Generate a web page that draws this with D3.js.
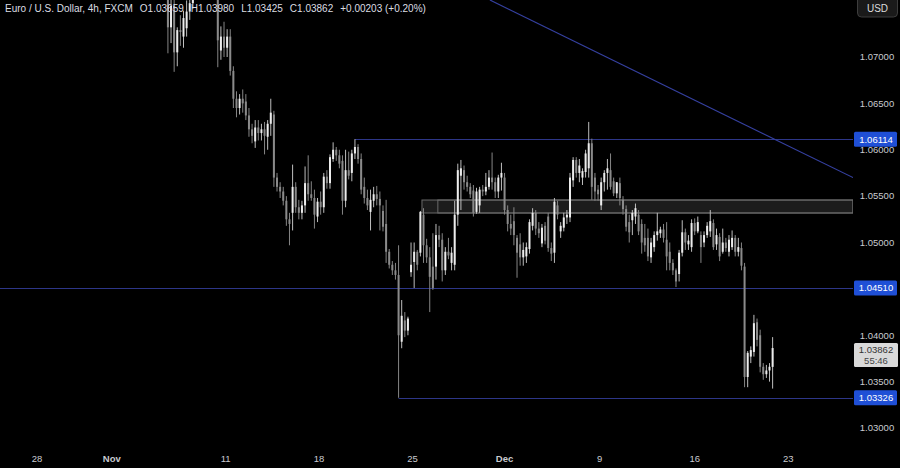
<!DOCTYPE html>
<html><head><meta charset="utf-8">
<script src="https://cdn.jsdelivr.net/npm/d3@7/dist/d3.min.js"></script>
<style>html,body{margin:0;padding:0;background:#000;overflow:hidden}svg{display:block}</style>
</head><body>
<svg id="chart" width="900" height="468"></svg>
<script>
// ---------- data (EUR/USD 4h, FXCM) ----------
const firstBar = 40; // bar index of first value (bar 0 = 28 Oct 00:00)
const open = [
1.0905,1.0925,1.0800,1.0732,1.0755,1.0705,1.0729,1.0722,1.0731,1.0749,
1.0758,1.0790,1.0798,1.0788,1.0782,1.0790,1.0784,1.0772,1.0768,1.0707,
1.0722,1.0710,1.0722,1.0685,1.0655,1.0645,1.0655,1.0652,1.0637,1.0622,
1.0609,1.0624,1.0618,1.0622,1.0614,1.0628,1.0638,1.0570,1.0560,1.0555,
1.0545,1.0525,1.0532,1.0560,1.0538,1.0532,1.0540,1.0564,1.0552,1.0548,
1.0528,1.0544,1.0538,1.0571,1.0564,1.0590,1.0600,1.0594,1.0588,1.0545,
1.0578,1.0575,1.0596,1.0603,1.0590,1.0560,1.0548,1.0533,1.0545,1.0552,
1.0547,1.0534,1.0520,1.0490,1.0476,1.0470,1.0465,1.0393,1.0416,1.0405,
1.0468,1.0479,1.0490,1.0489,1.0530,1.0497,1.0484,1.0474,1.0474,1.0508,
1.0503,1.0470,1.0490,1.0478,1.0476,1.0530,1.0572,1.0578,1.0565,1.0560,
1.0556,1.0533,1.0540,1.0557,1.0555,1.0560,1.0570,1.0565,1.0555,1.0570,
1.0570,1.0535,1.0520,1.0523,1.0505,1.0498,1.0484,1.0485,1.0493,1.0518,
1.0532,1.0515,1.0499,1.0518,1.0528,1.0494,1.0489,1.0540,1.0512,1.0516,
1.0527,1.0527,1.0567,1.0589,1.0575,1.0570,1.0576,1.0580,1.0607,1.0570,
1.0557,1.0540,1.0565,1.0575,1.0578,1.0566,1.0553,1.0564,1.0546,1.0536,
1.0522,1.0524,1.0528,1.0530,1.0520,1.0505,1.0505,1.0484,1.0495,1.0508,
1.0510,1.0514,1.0503,1.0490,1.0478,1.0470,1.0466,1.0489,1.0511,1.0498,
1.0495,1.0521,1.0512,1.0508,1.0500,1.0508,1.0512,1.0521,1.0498,1.0506,
1.0490,1.0500,1.0490,1.0495,1.0505,1.0490,1.0494,1.0474,1.0355,1.0377,
1.0382,1.0414,1.0400,1.0366,1.0358,1.0362,1.03659];
const high = [
1.0937,1.0930,1.0808,1.0772,1.0762,1.0732,1.0745,1.0750,1.0761,1.0770,
1.0795,1.0806,1.0805,1.0800,1.0796,1.0802,1.0790,1.0780,1.0775,1.0733,
1.0738,1.0730,1.0730,1.0690,1.0663,1.0660,1.0665,1.0660,1.0645,1.0628,
1.0632,1.0632,1.0628,1.0630,1.0632,1.0655,1.0642,1.0575,1.0565,1.0560,
1.0550,1.0532,1.0584,1.0565,1.0546,1.0545,1.0582,1.0594,1.0566,1.0557,
1.0548,1.0555,1.0575,1.0578,1.0595,1.0608,1.0603,1.0600,1.0594,1.0600,
1.0598,1.0600,1.06114,1.0606,1.0596,1.0570,1.0557,1.0557,1.0560,1.0561,
1.0555,1.0540,1.0546,1.0493,1.0480,1.0478,1.0497,1.0438,1.0425,1.0420,
1.0500,1.0500,1.0492,1.0534,1.0537,1.0504,1.0495,1.0510,1.0520,1.0518,
1.0510,1.0495,1.0505,1.0495,1.0545,1.0585,1.0589,1.0583,1.0572,1.0564,
1.0562,1.0559,1.0560,1.0562,1.0575,1.0578,1.0597,1.0570,1.0573,1.0586,
1.0575,1.0540,1.0530,1.0538,1.0508,1.0510,1.0500,1.0500,1.0525,1.0537,
1.0535,1.0522,1.0520,1.0522,1.0532,1.0500,1.0548,1.0545,1.0522,1.0532,
1.0535,1.0575,1.0592,1.0592,1.0590,1.0580,1.0600,1.0630,1.0612,1.0575,
1.0562,1.0570,1.0578,1.0590,1.0596,1.0570,1.0565,1.0570,1.0550,1.0540,
1.0530,1.0535,1.0542,1.0535,1.0525,1.0520,1.0515,1.0505,1.0512,1.0532,
1.0517,1.0520,1.0522,1.0500,1.0482,1.0472,1.0492,1.0524,1.0515,1.0508,
1.0525,1.0526,1.0528,1.0512,1.0512,1.0522,1.0535,1.0525,1.0515,1.0510,
1.0515,1.0505,1.0508,1.0513,1.0508,1.0505,1.0500,1.0478,1.0383,1.0388,
1.0422,1.0418,1.0406,1.0370,1.0368,1.0370,1.03980];
const low = [
1.0880,1.0780,1.0704,1.0715,1.0684,1.0690,1.0712,1.0710,1.0722,1.0740,
1.0752,1.0775,1.0780,1.0775,1.0772,1.0778,1.0766,1.0764,1.0689,1.0697,
1.0700,1.0700,1.0680,1.0645,1.0635,1.0638,1.0640,1.0632,1.0614,1.0607,
1.0602,1.0610,1.0610,1.0595,1.0600,1.0615,1.0560,1.0555,1.0548,1.0540,
1.0518,1.0497,1.0513,1.0532,1.0525,1.0525,1.0532,1.0545,1.0545,1.0515,
1.0522,1.0530,1.0532,1.0558,1.0558,1.0587,1.0588,1.0580,1.0530,1.0538,
1.0568,1.0566,1.0590,1.0585,1.0552,1.0542,1.0535,1.0513,1.0538,1.0540,
1.0513,1.0512,1.0478,1.0472,1.0465,1.0460,1.03326,1.0386,1.0398,1.0400,
1.0463,1.0451,1.0470,1.0485,1.0478,1.0478,1.0425,1.0449,1.0460,1.0495,
1.0458,1.0465,1.0482,1.0470,1.0470,1.0518,1.0535,1.0557,1.0555,1.0548,
1.0528,1.0531,1.0532,1.0550,1.0551,1.0557,1.0557,1.0548,1.0548,1.0556,
1.0530,1.0512,1.0508,1.0497,1.0462,1.0475,1.0475,1.0478,1.0488,1.0513,
1.0508,1.0505,1.0495,1.0498,1.0490,1.0480,1.0478,1.0525,1.0505,1.0512,
1.0520,1.0522,1.0560,1.0570,1.0565,1.0562,1.0570,1.0570,1.0546,1.0545,
1.0545,1.0535,1.0555,1.0557,1.0557,1.0550,1.0548,1.0540,1.0530,1.0512,
1.0500,1.0508,1.0520,1.0508,1.0488,1.0490,1.0480,1.0478,1.0490,1.0502,
1.0505,1.0500,1.0470,1.0470,1.0465,1.0452,1.0458,1.0485,1.0492,1.0492,
1.0490,1.0508,1.0510,1.0478,1.0495,1.0505,1.0506,1.0492,1.0492,1.0480,
1.0488,1.0490,1.0485,1.0492,1.0485,1.0485,1.0470,1.0344,1.0344,1.0370,
1.0377,1.0388,1.0360,1.0352,1.0354,1.0350,1.03425];
const close = [
1.0925,1.0800,1.0732,1.0755,1.0705,1.0729,1.0727,1.0742,1.0749,1.0758,
1.0790,1.0798,1.0788,1.0782,1.0790,1.0784,1.0772,1.0768,1.0718,1.0722,
1.0710,1.0722,1.0685,1.0655,1.0645,1.0655,1.0650,1.0637,1.0622,1.0615,
1.0624,1.0618,1.0622,1.0615,1.0628,1.0640,1.0570,1.0560,1.0555,1.0545,
1.0525,1.0520,1.0560,1.0538,1.0532,1.0540,1.0564,1.0552,1.0548,1.0530,
1.0544,1.0538,1.0571,1.0564,1.0592,1.0600,1.0594,1.0585,1.0545,1.0578,
1.0572,1.0596,1.0603,1.0590,1.0557,1.0548,1.0540,1.0546,1.0552,1.0547,
1.0540,1.0517,1.0490,1.0476,1.0470,1.0465,1.0400,1.0421,1.0405,1.0418,
1.0476,1.0490,1.0476,1.0533,1.0497,1.0484,1.0463,1.0451,1.0508,1.0503,
1.0470,1.0490,1.0486,1.0489,1.0530,1.0578,1.0580,1.0565,1.0560,1.0552,
1.0532,1.0555,1.0557,1.0555,1.0560,1.0570,1.0565,1.0555,1.0570,1.0575,
1.0535,1.0520,1.0515,1.0508,1.0489,1.0484,1.0492,1.0495,1.0522,1.0532,
1.0515,1.0510,1.0516,1.0502,1.0494,1.0488,1.0544,1.0530,1.0518,1.0527,
1.0530,1.0570,1.0589,1.0575,1.0583,1.0577,1.0596,1.0607,1.0560,1.0555,
1.0552,1.0565,1.0575,1.0580,1.0560,1.0553,1.0565,1.0548,1.0536,1.0517,
1.0511,1.0532,1.0537,1.0512,1.0500,1.0497,1.0485,1.0500,1.0508,1.0512,
1.0514,1.0505,1.0485,1.0478,1.0470,1.0458,1.0489,1.0511,1.0500,1.0502,
1.0521,1.0512,1.0522,1.0495,1.0508,1.0518,1.0523,1.0495,1.0508,1.0485,
1.0500,1.0494,1.0503,1.0505,1.0490,1.0495,1.0475,1.0355,1.0381,1.0384,
1.0413,1.0395,1.0366,1.0358,1.0362,1.0366,1.03862];

const priceTicks = [1.030, 1.035, 1.040, 1.045, 1.050, 1.055, 1.060, 1.065, 1.070];
const timeTickLabels = ["28", "Nov", "11", "18", "25", "Dec", "9", "16", "23"];
const timeTickBars   = [0, 24, 60.5, 90.5, 120.5, 150, 180.5, 211, 241];
const monthLabels = ["Nov", "Dec"];

const levelPrices    = [1.06114, 1.04510, 1.03326];
const levelStartBars = [102, null, 116];

const zoneTop = 1.05458, zoneBottom = 1.05318;
const zoneStartBars = [123.5, 128.6];

const trendBars   = [145.3, 261.8];
const trendPrices = [1.07615, 1.0570];

const headerTitle = "Euro / U.S. Dollar, 4h, FXCM";
const headerOHLC = ["O1.03659", "H1.03980", "L1.03425", "C1.03862", "+0.00203 (+0.20%)"];
const lastPrice = 1.03862;
const countdown = "55:46";
const currency = "USD";

// ---------- layout ----------
const W = 900, H = 468;
const plotRight = 853, plotBottom = 445;
const svg = d3.select("#chart");
svg.append("rect").attr("width", W).attr("height", H).attr("fill", "#000");

const x = d3.scaleLinear().domain([0, 236]).range([37, 37 + 236 * 3.117]);
const y = d3.scaleLinear().domain([1.03, 1.07]).range([428, 57]);

svg.append("defs").append("clipPath").attr("id", "plot")
  .append("rect").attr("x", 0).attr("y", 0).attr("width", plotRight).attr("height", plotBottom);

const plot = svg.append("g").attr("clip-path", "url(#plot)");

const lineColor = "#2d3688";

// zone (supply area)
zoneStartBars.forEach((b, k) => {
  plot.append("rect")
    .attr("x", x(b)).attr("y", y(zoneTop))
    .attr("width", plotRight - x(b)).attr("height", y(zoneBottom) - y(zoneTop))
    .attr("fill", k === 0 ? "#1c1c1c" : "none")
    .attr("stroke", "#6a6a6a").attr("stroke-width", 1);
});

// horizontal levels
levelPrices.forEach((p, k) => {
  const sb = levelStartBars[k];
  plot.append("line")
    .attr("x1", sb === null ? 0 : x(sb)).attr("x2", plotRight)
    .attr("y1", Math.round(y(p)) + 0.5).attr("y2", Math.round(y(p)) + 0.5)
    .attr("stroke", lineColor).attr("stroke-width", 1);
});

// trend line
plot.append("line")
  .attr("x1", x(trendBars[0])).attr("y1", y(trendPrices[0]))
  .attr("x2", x(trendBars[1])).attr("y2", y(trendPrices[1]))
  .attr("stroke", "#3540a0").attr("stroke-width", 1.1);

// candles
const bars = open.map((o, k) => ({ i: firstBar + k, o, h: high[k], l: low[k], c: close[k] }));
const cg = plot.append("g");
bars.forEach(d => {
  const xc = x(d.i);
  const up = d.c >= d.o;
  const bodyCol = up ? "#ececec" : "#8a8a8a";
  const wickCol = up ? "#bdbdbd" : "#858585";
  cg.append("rect").attr("x", xc - 0.5).attr("width", 1)
    .attr("y", y(d.h)).attr("height", Math.max(1, y(d.l) - y(d.h)))
    .attr("fill", wickCol);
  const top = y(Math.max(d.o, d.c)), bot = y(Math.min(d.o, d.c));
  cg.append("rect").attr("x", xc - 1).attr("width", 2)
    .attr("y", top).attr("height", Math.max(1, bot - top))
    .attr("fill", bodyCol);
});

// header
const hdr = svg.append("text").attr("x", 5).attr("y", 12)
  .attr("font-family", "Liberation Sans, Arial, sans-serif").attr("font-size", 10)
  .attr("fill", "#dcdee3");
hdr.append("tspan").text(headerTitle);
headerOHLC.forEach(t => hdr.append("tspan").attr("dx", 7).text(t));

// price axis
const axisFont = "Liberation Sans, Arial, sans-serif";
const pa = svg.append("g");
priceTicks.forEach(p => {
  pa.append("text").attr("x", 877).attr("y", y(p)).attr("dy", "0.35em")
    .attr("text-anchor", "middle").attr("font-family", axisFont).attr("font-size", 9.5)
    .attr("fill", "#c9cbd0").text(d3.format(".5f")(p));
});

// level labels
levelPrices.forEach(p => {
  const yy = y(p);
  pa.append("rect").attr("x", 854).attr("y", yy - 7.5).attr("width", 43).attr("height", 15)
    .attr("rx", 1.5).attr("fill", "#1f4fd6");
  pa.append("text").attr("x", 876).attr("y", yy).attr("dy", "0.35em")
    .attr("text-anchor", "middle").attr("font-family", axisFont).attr("font-size", 9.5)
    .attr("fill", "#ffffff").text(d3.format(".5f")(p));
});

// last price label
const yl = y(lastPrice);
pa.append("rect").attr("x", 854).attr("y", yl - 5).attr("width", 44).attr("height", 24)
  .attr("rx", 1.5).attr("fill", "#d9d9d9");
pa.append("text").attr("x", 876).attr("y", yl + 2).attr("dy", "0.35em")
  .attr("text-anchor", "middle").attr("font-family", axisFont).attr("font-size", 9.5)
  .attr("fill", "#333").text(d3.format(".5f")(lastPrice));
pa.append("text").attr("x", 876).attr("y", yl + 13).attr("dy", "0.35em")
  .attr("text-anchor", "middle").attr("font-family", axisFont).attr("font-size", 9.5)
  .attr("fill", "#444").text(countdown);

// currency button
pa.append("rect").attr("x", 857.5).attr("y", -4).attr("width", 40).attr("height", 21)
  .attr("rx", 4).attr("fill", "#1a1a1a").attr("stroke", "#3d3d3d");
pa.append("text").attr("x", 877.5).attr("y", 8).attr("dy", "0.35em")
  .attr("text-anchor", "middle").attr("font-family", axisFont).attr("font-size", 10)
  .attr("fill", "#dcdcdc").text(currency);

// time axis
timeTickLabels.forEach((t, k) => {
  svg.append("text").attr("x", x(timeTickBars[k])).attr("y", 459).attr("dy", "0.35em")
    .attr("text-anchor", "middle").attr("font-family", axisFont).attr("font-size", 9.5)
    .attr("font-weight", monthLabels.includes(t) ? "bold" : "normal")
    .attr("fill", "#c9cbd0").text(t);
});
</script>
</body></html>
